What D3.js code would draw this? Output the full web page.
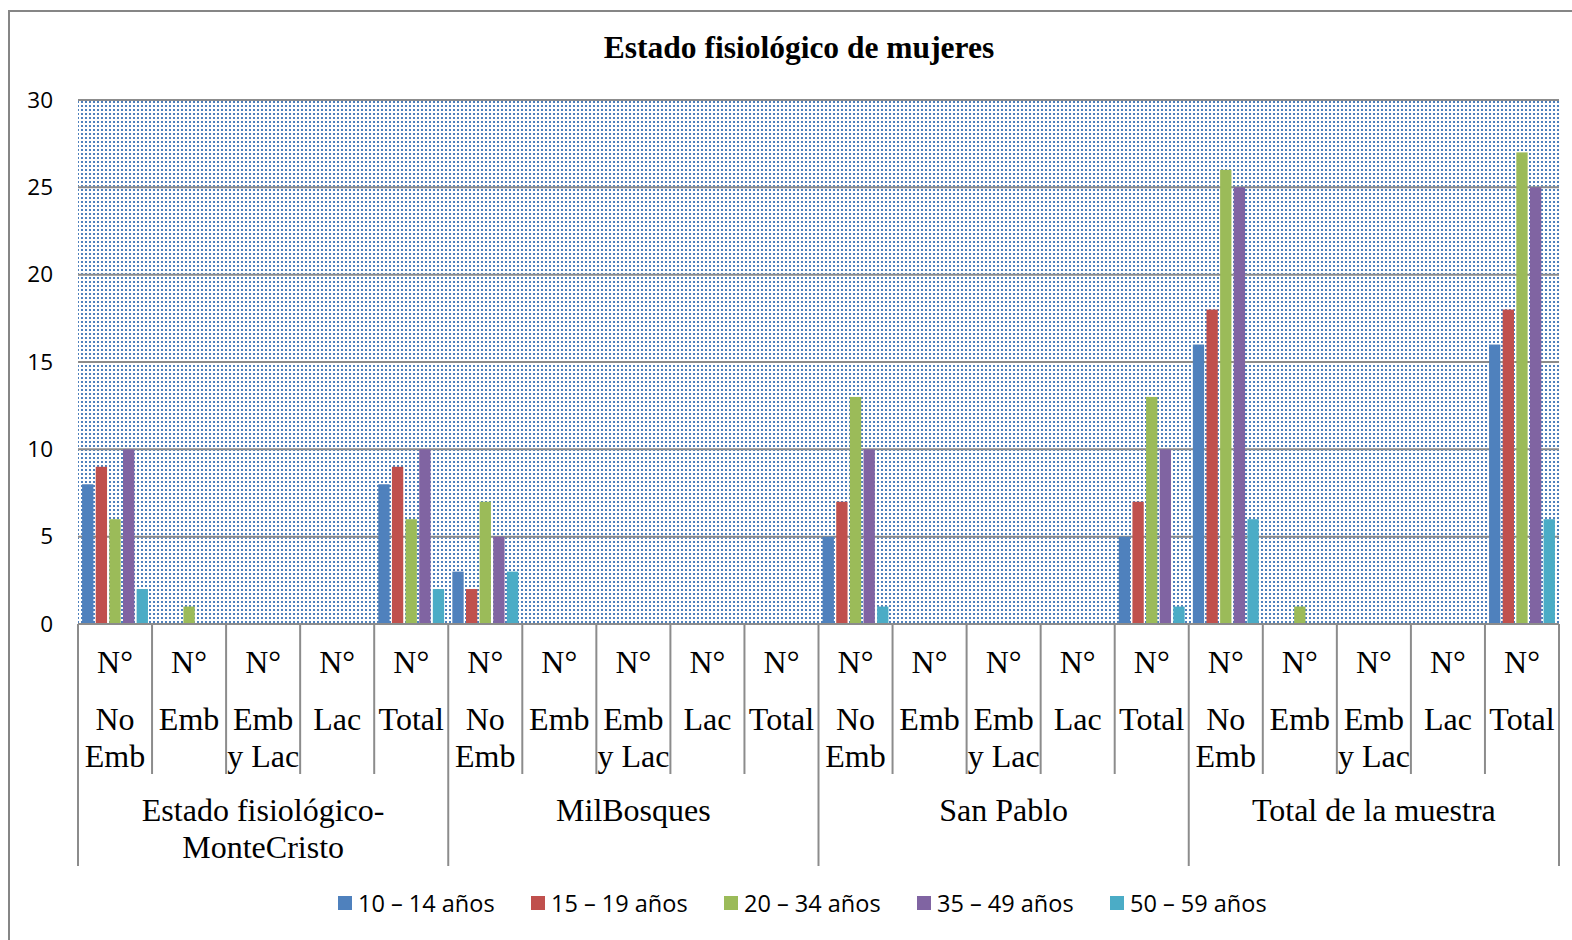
<!DOCTYPE html>
<html>
<head>
<meta charset="utf-8">
<script src="https://cdn.jsdelivr.net/npm/d3@7"></script>
<style>
  body { margin: 0; background: #fff; }
  svg { display: block; }
</style>
</head>
<body>
<svg id="chart" width="1572" height="940"></svg>
<script>
const width = 1572;
const height = 940;
const svg = d3.select('#chart');

// Data
const groups = ['Estado fisiológico-MonteCristo', 'MilBosques', 'San Pablo', 'Total de la muestra'];
const groupLines = [['Estado fisiológico-', 'MonteCristo'], ['MilBosques'], ['San Pablo'], ['Total de la muestra']];
const estados = ['No Emb', 'Emb', 'Emb y Lac', 'Lac', 'Total'];
const estadoLines = [['No', 'Emb'], ['Emb'], ['Emb', 'y Lac'], ['Lac'], ['Total']];
const seriesNames = ['10 – 14 años', '15 – 19 años', '20 – 34 años', '35 – 49 años', '50 – 59 años'];
const colors = ['#4f81bd', '#c0504d', '#9bbb59', '#8064a2', '#4bacc6'];

// one value per category (group x estado), in order
const edad10a14 = [8, 0, 0, 0, 8,   3, 0, 0, 0, 0,   5, 0, 0, 0, 5,   16, 0, 0, 0, 16];
const edad15a19 = [9, 0, 0, 0, 9,   2, 0, 0, 0, 0,   7, 0, 0, 0, 7,   18, 0, 0, 0, 18];
const edad20a34 = [6, 1, 0, 0, 6,   7, 0, 0, 0, 0,   13, 0, 0, 0, 13, 26, 1, 0, 0, 27];
const edad35a49 = [10, 0, 0, 0, 10, 5, 0, 0, 0, 0,   10, 0, 0, 0, 10, 25, 0, 0, 0, 25];
const edad50a59 = [2, 0, 0, 0, 2,   3, 0, 0, 0, 0,   1, 0, 0, 0, 1,   6, 0, 0, 0, 6];
const series = [edad10a14, edad15a19, edad20a34, edad35a49, edad50a59];
const yTicks = [0, 5, 10, 15, 20, 25, 30];

const categories = [];
groups.forEach((g, gi) => estados.forEach((e, ei) => categories.push({ key: g + '|' + e, gi, ei })));

const plot = { left: 78, right: 1559, top: 100, bottom: 624 };

const x0 = d3.scaleBand().domain(categories.map(d => d.key)).range([plot.left, plot.right]);
const x1 = d3.scaleBand().domain(d3.range(seriesNames.length)).range([0, x0.bandwidth()])
  .paddingInner(0.17).paddingOuter(0.3);
const y = d3.scaleLinear().domain([0, 30]).range([plot.bottom, plot.top]);
const xg = d3.scaleBand().domain(groups).range([plot.left, plot.right]);

// outer frame
svg.append('rect')
  .attr('x', 9).attr('y', 11).attr('width', 1580).attr('height', 960)
  .attr('fill', '#fff').attr('stroke', '#868686').attr('stroke-width', 2);

// dotted plot background
const defs = svg.append('defs');
const pat = defs.append('pattern')
  .attr('id', 'dots').attr('patternUnits', 'userSpaceOnUse')
  .attr('width', 4).attr('height', 4);
pat.append('rect').attr('width', 4).attr('height', 4).attr('fill', '#fff');
pat.append('rect').attr('x', 1).attr('y', 1).attr('width', 2).attr('height', 2).attr('fill', '#4f81bd');

svg.append('rect')
  .attr('x', plot.left).attr('y', plot.top)
  .attr('width', plot.right - plot.left).attr('height', plot.bottom - plot.top)
  .attr('fill', 'url(#dots)');

// gridlines
svg.append('g')
  .selectAll('line')
  .data(yTicks)
  .enter().append('line')
  .attr('x1', plot.left).attr('x2', plot.right)
  .attr('y1', d => y(d)).attr('y2', d => y(d))
  .attr('stroke', '#8c8c8c').attr('stroke-width', 2);

// y axis labels
const yAxis = d3.axisLeft(y).tickValues(yTicks).tickSize(0).tickPadding(25);
svg.append('g')
  .attr('transform', `translate(${plot.left},0)`)
  .call(yAxis)
  .call(g => g.select('.domain').remove())
  .selectAll('text')
  .attr('font-family', 'Open Sans, sans-serif')
  .attr('font-size', 22.5)
  .attr('fill', '#000');

// bars
const catG = svg.append('g')
  .selectAll('g')
  .data(categories)
  .enter().append('g')
  .attr('transform', d => `translate(${x0(d.key)},0)`);

catG.selectAll('rect')
  .data((d, i) => series.map((s, si) => ({ si, v: s[i] })))
  .enter().append('rect')
  .attr('x', d => x1(d.si))
  .attr('width', x1.bandwidth())
  .attr('y', d => y(d.v))
  .attr('height', d => y(0) - y(d.v))
  .attr('fill', d => colors[d.si]);

// category axis lines
const axisColor = '#8c8c8c';
svg.append('line')
  .attr('x1', plot.left).attr('x2', plot.right)
  .attr('y1', plot.bottom).attr('y2', plot.bottom)
  .attr('stroke', axisColor).attr('stroke-width', 2);

svg.append('g')
  .selectAll('line')
  .data(categories.filter(d => d.ei !== 0))
  .enter().append('line')
  .attr('x1', d => x0(d.key)).attr('x2', d => x0(d.key))
  .attr('y1', plot.bottom).attr('y2', 774)
  .attr('stroke', axisColor).attr('stroke-width', 2);

svg.append('g')
  .selectAll('line')
  .data(groups.concat(['end']))
  .enter().append('line')
  .attr('x1', (d, i) => i < groups.length ? xg(d) : plot.right)
  .attr('x2', (d, i) => i < groups.length ? xg(d) : plot.right)
  .attr('y1', plot.bottom).attr('y2', 866)
  .attr('stroke', axisColor).attr('stroke-width', 2);

// category labels
const catText = svg.append('g')
  .attr('font-family', 'Liberation Serif, Times New Roman, serif')
  .attr('font-size', 32)
  .attr('fill', '#000')
  .attr('text-anchor', 'middle');

categories.forEach(d => {
  const cx = x0(d.key) + x0.bandwidth() / 2;
  catText.append('text').attr('x', cx).attr('y', 673).text('N°');
  estadoLines[d.ei].forEach((line, li) => {
    catText.append('text').attr('x', cx).attr('y', 730 + li * 37).text(line);
  });
});

groups.forEach((g, gi) => {
  const cx = xg(g) + xg.bandwidth() / 2;
  groupLines[gi].forEach((line, li) => {
    catText.append('text').attr('x', cx).attr('y', 821 + li * 37).text(line);
  });
});

// title
svg.append('text')
  .attr('x', 799).attr('y', 58)
  .attr('text-anchor', 'middle')
  .attr('font-family', 'Liberation Serif, Times New Roman, serif')
  .attr('font-weight', 'bold')
  .attr('font-size', 31.5)
  .text('Estado fisiológico de mujeres');

// legend
const legend = svg.append('g')
  .attr('transform', 'translate(338, 903)');

const item = legend.selectAll('g')
  .data(seriesNames)
  .enter().append('g')
  .attr('transform', (d, i) => `translate(${i * 193},0)`);

item.append('rect')
  .attr('x', 0).attr('y', -7)
  .attr('width', 14).attr('height', 14)
  .attr('fill', (d, i) => colors[i]);

item.append('text')
  .attr('x', 20).attr('y', 8.5)
  .attr('font-family', 'Open Sans, sans-serif')
  .attr('font-size', 23.5)
  .text(d => d);
</script>
</body>
</html>
